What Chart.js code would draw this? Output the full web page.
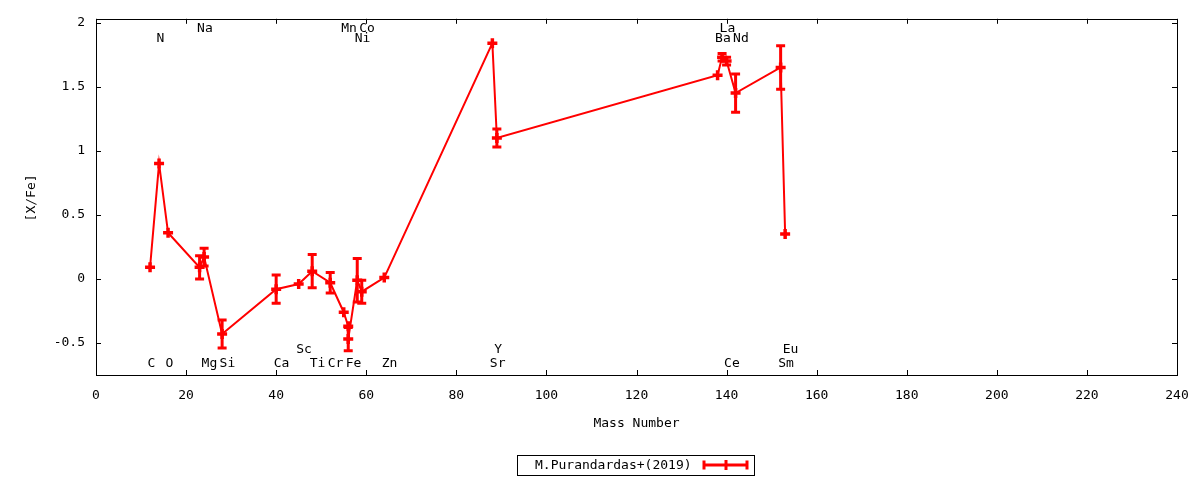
<!DOCTYPE html>
<html>
<head>
<meta charset="utf-8">
<script src="https://cdn.jsdelivr.net/npm/chart.js@4.4.0/dist/chart.umd.min.js"></script>
<style>
    html, body { margin: 0; padding: 0; background: #ffffff; }
    #wrap { width: 1200px; height: 480px; }
</style>
</head>
<body>
<div id="wrap"><canvas id="myChart"></canvas></div>
<script>
const elements = ['C', 'N', 'O', 'Na', 'Mg', 'Si', 'Ca', 'Sc', 'Ti', 'Cr', 'Mn', 'Fe', 'Fe', 'Ni', 'Co', 'Zn', 'Sr', 'Y', 'Ba', 'La', 'Ce', 'Nd', 'Sm', 'Eu']
const massNumbers = [12, 14, 16, 23, 24, 28, 40, 45, 48, 52, 55, 56, 56, 58, 59, 64, 88, 89, 138, 139, 140, 142, 152, 153]
const abundances = [0.09, 0.90, 0.36, 0.09, 0.17, -0.43, -0.08, -0.04, 0.06, -0.03, -0.26, -0.37, -0.47, -0.01, -0.10, 0.01, 1.84, 1.10, 1.59, 1.73, 1.70, 1.45, 1.65, 0.35]
const errors = [0, 0, 0, 0.09, 0.07, 0.11, 0.11, 0, 0.13, 0.08, 0, 0, 0.09, 0.17, 0.09, 0, 0, 0.07, 0, 0.03, 0.03, 0.15, 0.17, 0]

// height (in [X/Fe]) at which each element name is written
const labelElements = ['C', 'N', 'O', 'Na', 'Mg', 'Si', 'Ca', 'Sc', 'Ti', 'Cr', 'Mn', 'Fe', 'Ni', 'Co', 'Zn', 'Sr', 'Y', 'Ba', 'La', 'Ce', 'Nd', 'Sm', 'Eu']
const labelLevels = [-0.665, 1.877, -0.665, 1.955, -0.665, -0.665, -0.665, -0.555, -0.665, -0.665, 1.955, -0.665, 1.877, 1.955, -0.665, -0.665, -0.555, 1.877, 1.955, -0.665, 1.877, -0.665, -0.555]

const xTicks = [0, 20, 40, 60, 80, 100, 120, 140, 160, 180, 200, 220, 240]
const yTicks = [-0.5, 0, 0.5, 1, 1.5, 2]

const seriesLabel = 'M.Purandardas+(2019)'
const red = '#ff0000'
const fontFamily = "'DejaVu Sans Mono', monospace"

function drawErrorBar(ctx, px, top, bottom, cap) {
    ctx.beginPath()
    ctx.moveTo(px, top)
    ctx.lineTo(px, bottom)
    ctx.moveTo(px - cap, top)
    ctx.lineTo(px + cap, top)
    ctx.moveTo(px - cap, bottom)
    ctx.lineTo(px + cap, bottom)
    ctx.stroke()
}

const gnuplotLook = {
    id: 'gnuplotLook',
    afterDatasetsDraw(chart) {
        const ctx = chart.ctx
        const area = chart.chartArea
        const x = chart.scales.x
        const y = chart.scales.y

        ctx.save()

        // error bars
        ctx.strokeStyle = red
        ctx.lineWidth = 3
        massNumbers.forEach((m, i) => {
            if (!errors[i]) return
            drawErrorBar(ctx, x.getPixelForValue(m),
                y.getPixelForValue(abundances[i] + errors[i]),
                y.getPixelForValue(abundances[i] - errors[i]), 4.5)
        })

        // frame with inward ticks on every side
        ctx.strokeStyle = '#000000'
        ctx.lineWidth = 1
        ctx.strokeRect(Math.round(area.left) + 0.5, Math.round(area.top) + 0.5,
            Math.round(area.right - area.left), Math.round(area.bottom - area.top))
        ctx.beginPath()
        xTicks.forEach(v => {
            const px = Math.round(x.getPixelForValue(v)) + 0.5
            ctx.moveTo(px, area.bottom)
            ctx.lineTo(px, area.bottom - 5)
            ctx.moveTo(px, area.top)
            ctx.lineTo(px, area.top + 5)
        })
        yTicks.forEach(v => {
            const py = Math.round(y.getPixelForValue(v)) + 0.5
            ctx.moveTo(area.left, py)
            ctx.lineTo(area.left + 5, py)
            ctx.moveTo(area.right, py)
            ctx.lineTo(area.right - 5, py)
        })
        ctx.stroke()

        // element names
        ctx.fillStyle = '#000000'
        ctx.font = '13px ' + fontFamily
        ctx.textAlign = 'left'
        ctx.textBaseline = 'middle'
        labelElements.forEach((name, i) => {
            const m = massNumbers[elements.indexOf(name)]
            ctx.fillText(name, x.getPixelForValue(m) - 2.5, y.getPixelForValue(labelLevels[i]))
        })

        // axis titles
        ctx.textAlign = 'center'
        ctx.fillText('Mass Number', (area.left + area.right) / 2, 424)
        ctx.save()
        ctx.translate(32, (area.top + area.bottom) / 2 + 1)
        ctx.rotate(-Math.PI / 2)
        ctx.fillText('[X/Fe]', 0, 0)
        ctx.restore()

        // legend box
        ctx.strokeStyle = '#000000'
        ctx.lineWidth = 1
        ctx.strokeRect(517.5, 455.5, 237, 20)
        ctx.textAlign = 'left'
        ctx.fillText(chart.data.datasets[0].label, 535, 465.5)
        ctx.strokeStyle = red
        ctx.lineWidth = 3
        ctx.beginPath()
        ctx.moveTo(704, 465)
        ctx.lineTo(747, 465)
        ctx.stroke()
        drawErrorBar(ctx, 704, 460.5, 469.5, 0)
        drawErrorBar(ctx, 747, 460.5, 469.5, 0)
        ctx.beginPath()
        ctx.moveTo(726, 460)
        ctx.lineTo(726, 470)
        ctx.stroke()

        ctx.restore()
    }
}

function createChartDataSet() {
    return [{
        label: seriesLabel,
        data: massNumbers.map((m, i) => ({ x: m, y: abundances[i] })),
        borderColor: red,
        backgroundColor: red,
        borderWidth: 2,
        pointStyle: 'cross',
        pointRadius: 5,
        pointBorderWidth: 3.5,
        pointHoverRadius: 5,
        tension: 0,
        fill: false
    }]
}

function createChart() {
    Chart.defaults.font.family = fontFamily
    Chart.defaults.font.size = 13
    Chart.defaults.color = '#000000'

    const ctx = document.getElementById('myChart')

    const config = {
        type: 'line',
        data: {
            datasets: createChartDataSet()
        },
        options: {
            responsive: true,
            maintainAspectRatio: false,
            animation: false,
            layout: {
                padding: { top: 18, right: 23, bottom: 0, left: 0 }
            },
            plugins: {
                legend: { display: false },
                tooltip: { enabled: false }
            },
            scales: {
                x: {
                    type: 'linear',
                    min: 0,
                    max: 240,
                    afterBuildTicks: scale => { scale.ticks = xTicks.map(v => ({ value: v })) },
                    afterFit: scale => {
                        scale.height = 105
                        scale.paddingLeft = 0
                        scale.paddingRight = 0
                    },
                    grid: { display: false, drawTicks: false },
                    border: { display: false },
                    ticks: {
                        padding: 13,
                        maxRotation: 0,
                        autoSkip: false,
                        callback: v => String(v)
                    }
                },
                y: {
                    type: 'linear',
                    min: -0.75,
                    max: 2.03,
                    afterBuildTicks: scale => { scale.ticks = yTicks.map(v => ({ value: v })) },
                    afterFit: scale => { scale.width = 96 },
                    grid: { display: false, drawTicks: false },
                    border: { display: false },
                    ticks: {
                        padding: 11,
                        autoSkip: false,
                        callback: v => String(v)
                    }
                }
            }
        },
        plugins: [gnuplotLook]
    }

    return new Chart(ctx, config)
}

const chart = createChart()
</script>
</body>
</html>
